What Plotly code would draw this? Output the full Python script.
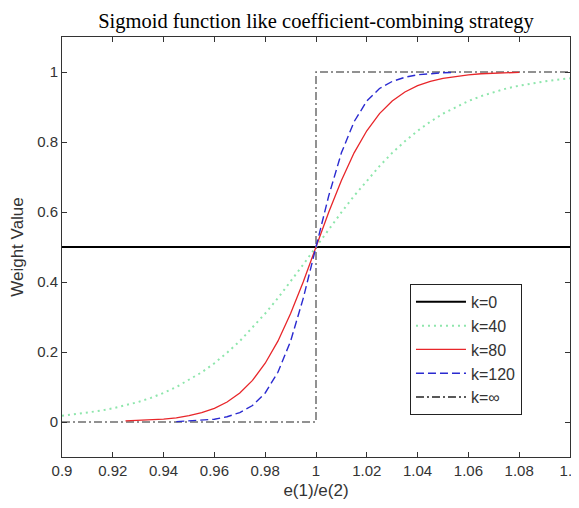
import plotly.graph_objects as go

title_text = "Sigmoid function like coefficient-combining strategy"
x_label = "e(1)/e(2)"
y_label = "Weight Value"

x_k0 = [0.9, 1.1]
y_k0 = [0.5, 0.5]

x_k40 = [0.900, 0.905, 0.910, 0.915, 0.920, 0.925, 0.930, 0.935, 0.940, 0.945,
         0.950, 0.955, 0.960, 0.965, 0.970, 0.975, 0.980, 0.985, 0.990, 0.995,
         1.000, 1.005, 1.010, 1.015, 1.020, 1.025, 1.030, 1.035, 1.040, 1.045,
         1.050, 1.055, 1.060, 1.065, 1.070, 1.075, 1.080, 1.085, 1.090, 1.095, 1.100]
y_k40 = [0.018, 0.022, 0.027, 0.032, 0.039, 0.047, 0.057, 0.069, 0.083, 0.100,
         0.120, 0.142, 0.168, 0.198, 0.231, 0.269, 0.310, 0.354, 0.401, 0.450,
         0.500, 0.550, 0.599, 0.646, 0.690, 0.731, 0.769, 0.802, 0.832, 0.858,
         0.881, 0.900, 0.917, 0.931, 0.943, 0.953, 0.961, 0.968, 0.973, 0.978, 0.982]

x_k80 = [0.925, 0.930, 0.935, 0.940, 0.945, 0.950, 0.955, 0.960, 0.965, 0.970,
         0.975, 0.980, 0.985, 0.990, 0.995, 1.000, 1.005, 1.010, 1.015, 1.020,
         1.025, 1.030, 1.035, 1.040, 1.045, 1.050, 1.055, 1.060, 1.065, 1.070,
         1.075, 1.080]
y_k80 = [0.003, 0.004, 0.006, 0.008, 0.012, 0.018, 0.027, 0.039, 0.057, 0.083,
         0.119, 0.168, 0.231, 0.310, 0.401, 0.500, 0.599, 0.690, 0.769, 0.832,
         0.881, 0.917, 0.943, 0.961, 0.973, 0.982, 0.988, 0.992, 0.995, 0.996,
         0.998, 0.999]

x_k120 = [0.945, 0.950, 0.955, 0.960, 0.965, 0.970, 0.975, 0.980, 0.985, 0.990,
          0.995, 1.000, 1.005, 1.010, 1.015, 1.020, 1.025, 1.030, 1.035, 1.040,
          1.045, 1.050, 1.055]
y_k120 = [0.001, 0.003, 0.005, 0.008, 0.015, 0.027, 0.047, 0.083, 0.142, 0.231,
          0.354, 0.500, 0.646, 0.769, 0.858, 0.917, 0.953, 0.973, 0.985, 0.992,
          0.996, 0.998, 0.999]

x_kinf = [0.9, 1.0, 1.0, 1.1]
y_kinf = [0.0, 0.0, 1.0, 1.0]

x_ticks = [0.9, 0.92, 0.94, 0.96, 0.98, 1.0, 1.02, 1.04, 1.06, 1.08, 1.1]
x_ticktext = ["0.9", "0.92", "0.94", "0.96", "0.98", "1", "1.02", "1.04", "1.06", "1.08", "1.1"]
y_ticks = [0, 0.2, 0.4, 0.6, 0.8, 1.0]
y_ticktext = ["0", "0.2", "0.4", "0.6", "0.8", "1"]

sans = "Liberation Sans, Arial"

fig = go.Figure()
fig.add_trace(go.Scatter(x=x_k0, y=y_k0, mode="lines", name="k=0",
                         line=dict(color="#000000", width=2)))
fig.add_trace(go.Scatter(x=x_kinf, y=y_kinf, mode="lines", name="k=∞",
                         line=dict(color="#6e6e6e", width=1.5, dash="8px,3px,2px,3px"),
                         showlegend=False))
fig.add_trace(go.Scatter(x=x_k40, y=y_k40, mode="lines", name="k=40",
                         line=dict(color="#8ee6ac", width=2, dash="2px,4px")))
fig.add_trace(go.Scatter(x=x_k80, y=y_k80, mode="lines", name="k=80",
                         line=dict(color="#e8262a", width=1.3)))
fig.add_trace(go.Scatter(x=x_k120, y=y_k120, mode="lines", name="k=120",
                         line=dict(color="#2a2ad0", width=1.4, dash="8px,4px")))
fig.add_trace(go.Scatter(x=[None], y=[None], mode="lines", name="k=∞",
                         line=dict(color="#222222", width=1.5, dash="8px,3px,2px,3px")))

axis_common = dict(showline=True, linecolor="#333333", linewidth=1, mirror="ticks",
                   ticks="inside", ticklen=5, tickcolor="#333333", showgrid=False,
                   zeroline=False, automargin=False,
                   tickfont=dict(family=sans, size=15, color="#333333"))

fig.update_layout(
    width=571, height=500,
    paper_bgcolor="white", plot_bgcolor="white",
    margin=dict(l=54, r=9, t=29, b=51),
    title=dict(text=title_text, xref="paper", x=0.5, xanchor="center",
               y=0.975, yanchor="middle",
               font=dict(family="Liberation Serif, Times New Roman", size=20.5, color="#000000")),
    xaxis=dict(range=[0.9, 1.1], tickvals=x_ticks, ticktext=x_ticktext,
               ticklabeloverflow="allow",
               title=dict(text=x_label, standoff=6,
                          font=dict(family=sans, size=17, color="#333333")),
               **axis_common),
    yaxis=dict(range=[-0.1, 1.1], tickvals=y_ticks, ticktext=y_ticktext,
               title=dict(text=y_label, standoff=10,
                          font=dict(family=sans, size=17, color="#333333")),
               **axis_common),
    legend=dict(x=0.685, y=0.412, xanchor="left", yanchor="top",
                bgcolor="white", bordercolor="#222222", borderwidth=1,
                font=dict(family=sans, size=16, color="#333333"),
                itemwidth=50, entrywidth=95, entrywidthmode="pixels",
                traceorder="normal"),
    showlegend=True,
)

fig.write_html("out.html")
